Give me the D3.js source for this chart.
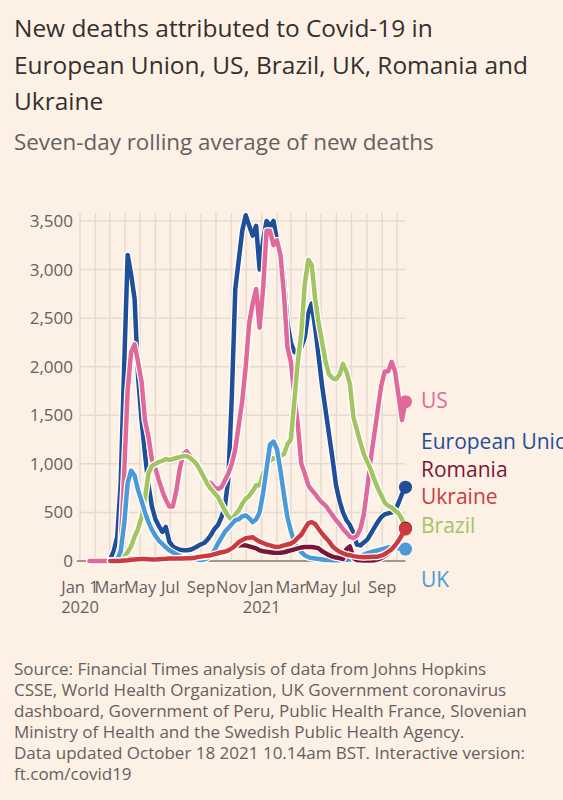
<!DOCTYPE html>
<html>
<head>
<meta charset="utf-8">
<script src="https://cdn.jsdelivr.net/npm/d3@7"></script>
<style>
  body { margin: 0; background: #fdf1e6; }
  svg { display: block; }
</style>
</head>
<body>
<div id="chart"></div>
<script>
// weekly points, Monday Jan 6 2020 -> Monday Oct 18 2021 (94 weeks)
var weeks = d3.timeMonday.range(new Date(2020, 0, 6), new Date(2021, 9, 19));

// seven-day rolling average of new deaths (null = no data yet)
var euDeaths = [
  null, null, null, null, null, null, null, null, 20, 100,
  250, 800, 2000, 3150, 2950, 2700, 1900, 1450, 1100, 780,
  560, 430, 360, 300, 350, 200, 150, 130, 115, 110,
  110, 115, 130, 150, 170, 185, 220, 270, 330, 370,
  450, 560, 850, 1700, 2800, 3100, 3400, 3560, 3450, 3350,
  3450, 3000, 3300, 3500, 3450, 3500, 3300, 3200, 2900, 2450,
  2250, 2150, 2150, 2200, 2300, 2550, 2650, 2400, 2100, 1800,
  1550, 1300, 1050, 780, 620, 500, 420, 370, 290, 170,
  160, 190, 220, 280, 340, 400, 450, 480, 490, 500,
  520, 600, 690, 760
];
var usDeaths = [
  null, null, 0, 0, 0, 0, 0, 0, 2, 5,
  30, 150, 900, 1750, 2150, 2230, 2050, 1850, 1450, 1280,
  1040, 950, 830, 720, 630, 560, 560, 720, 950, 1100,
  1130, 1080, 1050, 990, 900, 850, 820, 800, 760, 740,
  760, 830, 900, 1000, 1150, 1400, 1650, 2000, 2450, 2650,
  2800, 2400, 2800, 3400, 3400, 3250, 3300, 3150, 2750, 2200,
  2050, 1700, 1400, 1000, 900, 780, 730, 690, 640, 600,
  570, 520, 470, 420, 380, 330, 290, 250, 235, 260,
  330, 480, 750, 1050, 1300, 1550, 1800, 1950, 1950, 2050,
  1950, 1700, 1450, 1640
];
var brazilDeaths = [
  null, null, null, null, null, null, null, null, 0, 0,
  5, 20, 50, 90, 150, 250, 330, 450, 650, 900,
  980, 1000, 1020, 1030, 1050, 1040, 1050, 1060, 1070, 1080,
  1080, 1060, 1030, 990, 930, 860, 790, 740, 700, 660,
  590, 520, 460, 420, 480, 520, 590, 640, 670, 720,
  780, 780, 900, 980, 1030, 1060, 1050, 1080, 1100, 1200,
  1250, 1650, 2050, 2350, 2850, 3100, 3050, 2700, 2450, 2250,
  2050, 1920, 1880, 1870, 1920, 2030, 1950, 1820, 1480, 1350,
  1220, 1100, 1020, 940, 840, 750, 680, 600, 570, 550,
  520, 490, 430, 330
];
var ukDeaths = [
  null, null, null, null, null, null, null, null, 0, 2,
  15, 100, 380, 800, 930, 880, 730, 620, 500, 400,
  320, 260, 210, 175, 140, 110, 90, 70, 55, 45,
  40, 35, 25, 15, 10, 15, 30, 60, 110, 180,
  240, 300, 340, 380, 420, 430, 460, 470, 440, 400,
  430, 500, 700, 950, 1200, 1230, 1150, 930, 680, 450,
  310, 190, 130, 90, 60, 40, 30, 25, 20, 15,
  10, 10, 8, 8, 8, 10, 12, 15, 20, 30,
  45, 65, 80, 90, 100, 110, 120, 130, 140, 140,
  135, 130, 125, 123
];
var romaniaDeaths = [
  null, null, null, null, null, null, null, null, 0, 0,
  1, 3, 10, 20, 25, 25, 22, 18, 15, 12,
  10, 8, 10, 12, 15, 20, 22, 25, 28, 35,
  38, 40, 42, 40, 42, 45, 50, 55, 60, 70,
  80, 90, 110, 130, 150, 160, 165, 160, 150, 140,
  130, 110, 100, 95, 90, 85, 85, 85, 90, 100,
  110, 120, 130, 140, 145, 145, 145, 140, 130, 100,
  80, 60, 45, 35, 30, 20, 120, 150, 30, 10,
  8, 6, 5, 5, 8, 15, 30, 50, 75, 110,
  150, 200, 260, 340
];
var ukraineDeaths = [
  null, null, null, null, null, null, null, null, 0, 0,
  1, 2, 5, 8, 12, 15, 18, 20, 20, 18,
  15, 15, 18, 20, 22, 25, 25, 25, 25, 25,
  28, 28, 30, 40, 45, 50, 55, 60, 70, 80,
  90, 95, 110, 130, 160, 195, 215, 235, 240, 245,
  220, 200, 185, 170, 160, 150, 145, 150, 160, 170,
  180, 200, 240, 270, 330, 390, 400, 380, 330, 280,
  240, 200, 150, 120, 95, 80, 65, 60, 50, 45,
  40, 38, 40, 42, 45, 45, 55, 70, 95, 120,
  160, 210, 270, 330
];

var seriesNames = ['European Union', 'US', 'Brazil', 'UK', 'Romania', 'Ukraine'];
var seriesValues = [euDeaths, usDeaths, brazilDeaths, ukDeaths, romaniaDeaths, ukraineDeaths];
var seriesColors = ['#1f4f98', '#e0699a', '#a2c463', '#4b9ad8', '#7b1534', '#cc3a40'];

var yTicks = [0, 500, 1000, 1500, 2000, 2500, 3000, 3500];
var xTickDates = [new Date(2020, 0, 1), new Date(2020, 2, 1), new Date(2020, 4, 1), new Date(2020, 6, 1),
  new Date(2020, 8, 1), new Date(2020, 10, 1), new Date(2021, 0, 1), new Date(2021, 2, 1),
  new Date(2021, 4, 1), new Date(2021, 6, 1), new Date(2021, 8, 1)];
var xTickLabels = ['Jan 1', 'Mar', 'May', 'Jul', 'Sep', 'Nov', 'Jan', 'Mar', 'May', 'Jul', 'Sep'];
var xTickYears = ['2020', '', '', '', '', '', '2021', '', '', '', ''];

var titleLines = ['New deaths attributed to Covid-19 in',
  'European Union, US, Brazil, UK, Romania and',
  'Ukraine'];
var subtitle = 'Seven-day rolling average of new deaths';
var sourceLines = ['Source: Financial Times analysis of data from Johns Hopkins',
  'CSSE, World Health Organization, UK Government coronavirus',
  'dashboard, Government of Peru, Public Health France, Slovenian',
  'Ministry of Health and the Swedish Public Health Agency.',
  'Data updated October 18 2021 10.14am BST. Interactive version:',
  'ft.com/covid19'];

// layout
var W = 563, H = 800;
var font = "'Open Sans', 'Noto Sans', sans-serif";
var ink = '#33302e', muted = '#66605c', grid = '#e6dbd0', paper = '#fdf1e6';
var labelOrder = ['US', 'European Union', 'Romania', 'Ukraine', 'Brazil', 'UK'];
var labelBaselines = [408, 449, 477, 504, 533, 587];

var svg = d3.select('#chart').append('svg')
  .attr('width', W).attr('height', H);

svg.append('rect').attr('width', W).attr('height', H).attr('fill', paper);

// write a block of lines, then scale its font so the widest line matches the reference
function textBlock(g, lines, x0, y0, step, size, widest) {
  var els = lines.map(function(t, i) {
    return g.append('text').attr('x', x0).attr('y', y0 + i * step).attr('font-size', size).text(t);
  });
  var maxW = d3.max(els, function(e) { return e.node().getComputedTextLength(); });
  var fs = size * widest / maxW;
  els.forEach(function(e) { e.attr('font-size', fs); });
}

// title
var title = svg.append('g').attr('font-family', font).attr('fill', ink);
textBlock(title, titleLines, 14, 37, 36.5, 24, 514);

var sub = svg.append('g').attr('font-family', font).attr('fill', muted);
textBlock(sub, [subtitle], 14, 150, 0, 20, 420);

// scales
var x = d3.scaleTime()
  .domain([new Date(2020, 0, 1), new Date(2021, 9, 18)])
  .range([80, 405.5]);
var y = d3.scaleLinear().domain([0, 3500]).range([561, 221]);

// grid
var months = d3.timeMonth.range(new Date(2020, 0, 1), new Date(2021, 9, 2));
svg.append('g').selectAll('line').data(months).enter().append('line')
  .attr('x1', function(d) { return x(d); }).attr('x2', function(d) { return x(d); })
  .attr('y1', 213).attr('y2', y(0))
  .attr('stroke', grid).attr('stroke-width', 1.5);

svg.append('g').selectAll('line').data(yTicks.slice(1)).enter().append('line')
  .attr('x1', x.range()[0]).attr('x2', x.range()[1])
  .attr('y1', function(d) { return y(d); }).attr('y2', function(d) { return y(d); })
  .attr('stroke', grid).attr('stroke-width', 1.5);

// y axis labels
var yAxis = svg.append('g').attr('transform', 'translate(' + 80 + ',0)')
  .call(d3.axisLeft(y).tickValues(yTicks).tickSize(0).tickPadding(7).tickFormat(d3.format(',')));
yAxis.select('.domain').remove();
yAxis.selectAll('text').attr('font-family', font).attr('font-size', 17).attr('fill', muted);

// baseline
svg.append('line')
  .attr('x1', 77).attr('x2', x.range()[1])
  .attr('y1', y(0)).attr('y2', y(0))
  .attr('stroke', '#807973').attr('stroke-width', 1.5);

// x axis labels
var xl = svg.append('g').attr('font-family', font).attr('font-size', 16.5)
  .attr('fill', muted).attr('text-anchor', 'middle');
xl.selectAll('text.m').data(xTickDates).enter().append('text').attr('class', 'm')
  .attr('x', function(d) { return x(d); }).attr('y', 593)
  .text(function(d, i) { return xTickLabels[i]; });
xl.selectAll('text.yr').data(xTickDates).enter().append('text').attr('class', 'yr')
  .attr('x', function(d) { return x(d); }).attr('y', 613)
  .text(function(d, i) { return xTickYears[i]; });

// lines, each with a white halo
var line = d3.line()
  .defined(function(d) { return d != null; })
  .x(function(d, i) { return x(weeks[i]); })
  .y(function(d) { return y(d); });

var lines = svg.append('g');
seriesValues.forEach(function(vals, k) {
  lines.append('path').attr('d', line(vals))
    .attr('fill', 'none').attr('stroke', '#ffffff').attr('stroke-width', 7)
    .attr('stroke-linejoin', 'round').attr('stroke-linecap', 'round');
  lines.append('path').attr('d', line(vals))
    .attr('fill', 'none').attr('stroke', seriesColors[k]).attr('stroke-width', 4.5)
    .attr('stroke-linejoin', 'round').attr('stroke-linecap', 'round');
});

// end dots
svg.append('g').selectAll('circle').data(seriesValues).enter().append('circle')
  .attr('cx', x(weeks[weeks.length - 1]))
  .attr('cy', function(d) { return y(d[d.length - 1]); })
  .attr('r', 6.5)
  .attr('fill', function(d, i) { return seriesColors[i]; });

// direct labels
svg.append('g').attr('font-family', font).attr('font-size', 21)
  .selectAll('text').data(labelOrder).enter().append('text')
  .attr('x', 421).attr('y', function(d, i) { return labelBaselines[i]; })
  .attr('fill', function(d) { return seriesColors[seriesNames.indexOf(d)]; })
  .text(function(d) { return d; });

// source
var src = svg.append('g').attr('font-family', font).attr('fill', muted);
textBlock(src, sourceLines, 14, 675, 21, 16, 513);
</script>
</body>
</html>
